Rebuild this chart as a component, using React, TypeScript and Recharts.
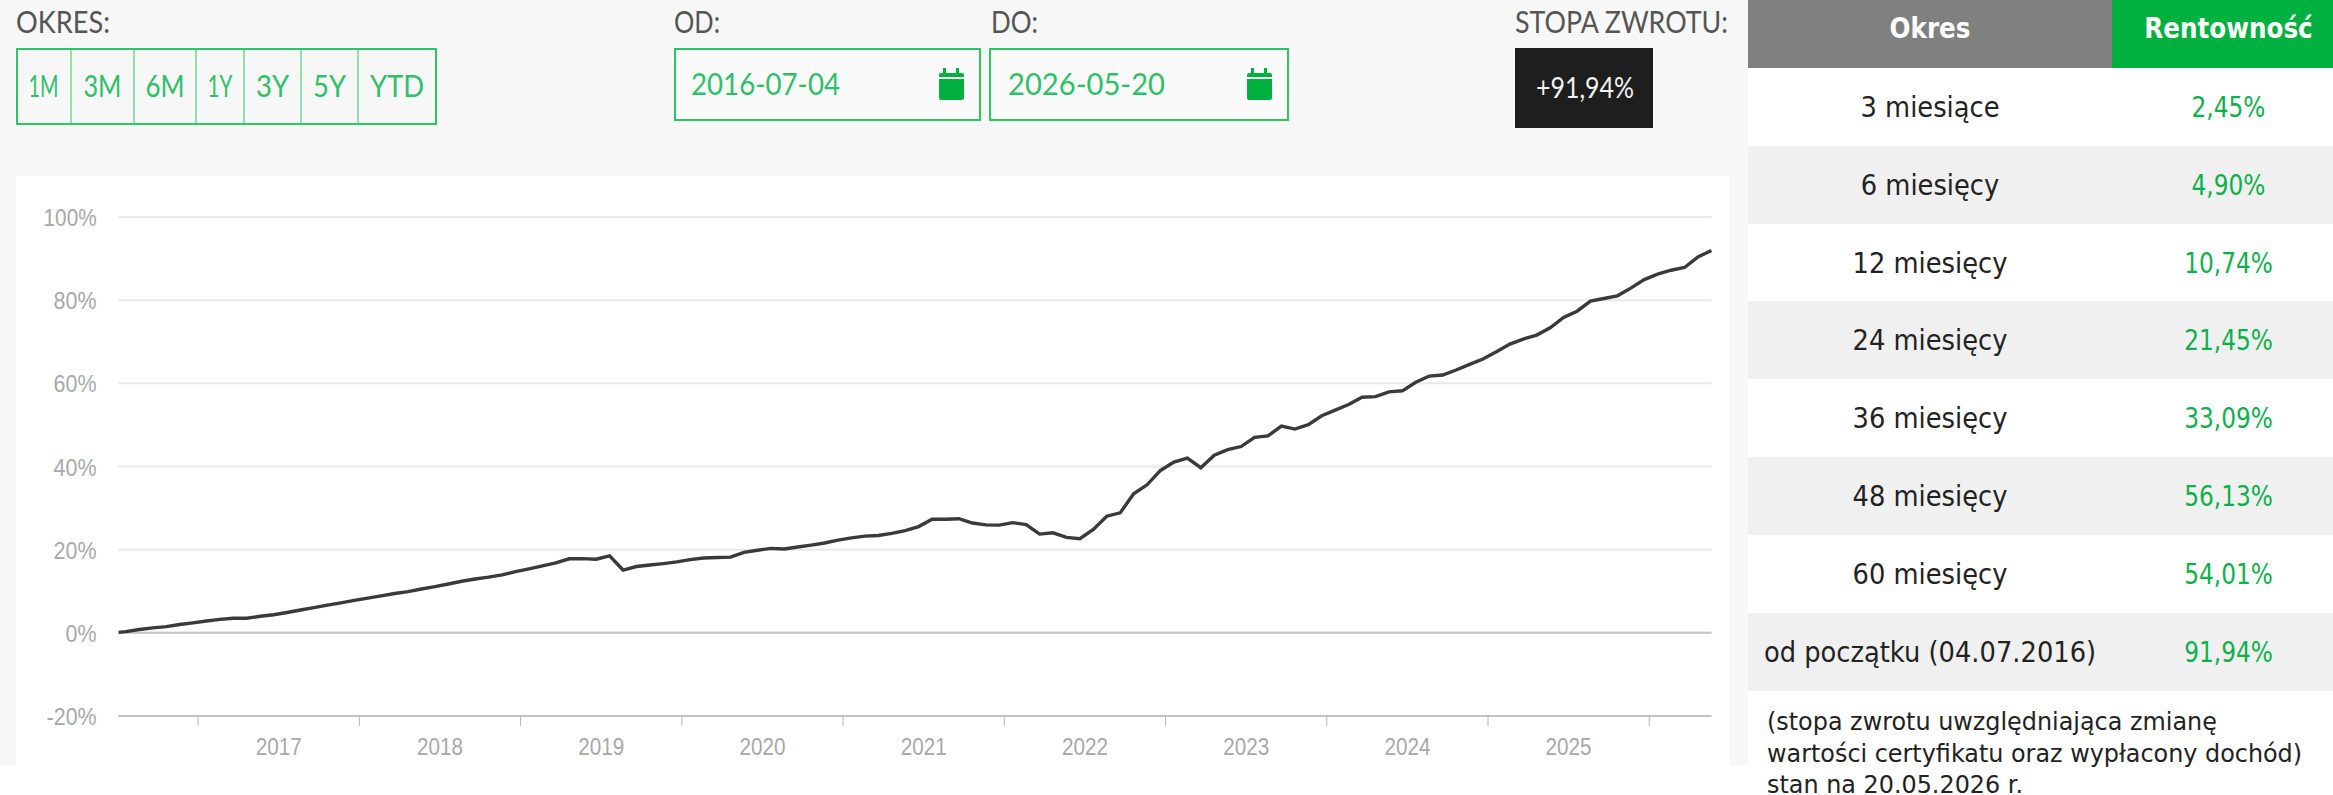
import { CartesianGrid, Line, LineChart, ReferenceLine, XAxis, YAxis } from "recharts";

const GREEN = "#2ac765";
const TEXT_GREEN = "#2fbf68";
const DARK_GREEN = "#00b140";
const TICK_FONT = "'Liberation Sans', Arial";

// values: first entry is 2016-07-04, the rest the 20th of each month
const returnValues = [
  0.1, 0.3, 0.8, 1.2, 1.5, 2.0, 2.4, 2.85, 3.25, 3.5, 3.5, 4.0, 4.35, 4.9, 5.5, 6.05, 6.65, 7.2, 7.8, 8.35,
  8.9, 9.45, 9.9, 10.55, 11.1, 11.75, 12.4, 12.95, 13.4, 13.95, 14.7, 15.4, 16.1, 16.8, 17.8, 17.85, 17.7, 18.5,
  15.1, 15.95, 16.3, 16.65, 17.05, 17.6, 18.0, 18.1, 18.2, 19.35, 19.85, 20.3, 20.15, 20.65, 21.1, 21.6, 22.3,
  22.85, 23.25, 23.4, 23.9, 24.6, 25.55, 27.3, 27.3, 27.45, 26.4, 25.95, 25.9, 26.5, 26.05, 23.75, 24.05, 22.95,
  22.65, 24.85, 28.05, 28.85, 33.45, 35.6, 39.05, 41.05, 42.0, 39.7, 42.7, 44.05, 44.8, 47.0, 47.35, 49.7, 49.0,
  50.05, 52.2, 53.55, 54.9, 56.65, 56.8, 57.95, 58.2, 60.25, 61.75, 62.0, 63.2, 64.55, 65.85, 67.6, 69.45, 70.65,
  71.6, 73.35, 75.85, 77.35, 79.75, 80.4, 81.05, 82.9, 84.95, 86.25, 87.2, 87.85, 90.4, 91.94,
];
const yTicks = [-20, 0, 20, 40, 60, 80, 100];
const yearTicks = [2017, 2018, 2019, 2020, 2021, 2022, 2023, 2024, 2025, 2026];

const periodLabels = ["3 miesiące", "6 miesięcy", "12 miesięcy", "24 miesięcy", "36 miesięcy", "48 miesięcy", "60 miesięcy", "od początku (04.07.2016)"];
const periodValues = ["2,45%", "4,90%", "10,74%", "21,45%", "33,09%", "56,13%", "54,01%", "91,94%"];
const noteLines = [
  "(stopa zwrotu uwzględniająca zmianę",
  "wartości certyfikatu oraz wypłacony dochód)",
  "stan na 20.05.2026 r.",
];
const rangeButtons = ["1M", "3M", "6M", "1Y", "3Y", "5Y", "YTD"];
const buttonEdges = [16, 71, 134, 196, 244, 301, 358, 436];
const buttonTextWidths = [30, 38, 39, 25, 33, 33, 54];

const chartData = returnValues.map((value, i) => {
  // month index counted from July 2016, point 0 is the start date
  const date = i === 0 ? 2016.507 : 2016 + (6 + (i - 1) + 19 / 30.4) / 12;
  return { date, value };
});

const YEAR_PX = 80.6;

function YearTick({ x, y, payload }: any) {
  if (payload.value === 2026) return null;
  return (
    <text x={x + YEAR_PX - 23} y={y + 27} textLength={46} lengthAdjust="spacingAndGlyphs" fill="#a8a8a8" fontSize={24} fontFamily={TICK_FONT}>
      {payload.value}
    </text>
  );
}

function PercentTick({ x, y, payload }: any) {
  const label = `${payload.value}%`;
  const width = payload.value === 100 ? 53 : payload.value === 0 ? 31 : payload.value === -20 ? 50 : 43;
  return (
    <text x={x - width} y={y + 9} textLength={width} lengthAdjust="spacingAndGlyphs" fill="#a8a8a8" fontSize={24} fontFamily={TICK_FONT}>
      {label}
    </text>
  );
}

function CalendarIcon({ x }: { x: number }) {
  return (
    <g fill={DARK_GREEN}>
      <rect x={x} y={73} width={25} height={27} rx={2} />
      <rect x={x + 4} y={68} width={3} height={7} />
      <rect x={x + 17} y={68} width={3} height={7} />
      <rect x={x} y={77} width={25} height={2} fill="#f7f7f7" />
    </g>
  );
}

function ControlText({ x, y, width, fill, children, size = 31 }: any) {
  return (
    <text x={x} y={y} textLength={width} lengthAdjust="spacingAndGlyphs" fill={fill} fontSize={size} fontFamily="Lato" fontWeight={400}>
      {children}
    </text>
  );
}

function Controls() {
  return (
    <svg width={2333} height={176} style={{ position: "absolute", left: 0, top: 0 }}>
      <ControlText x={16} y={33} width={94} fill="#555">OKRES:</ControlText>
      <ControlText x={674} y={33} width={46} fill="#555">OD:</ControlText>
      <ControlText x={991} y={33} width={47} fill="#555">DO:</ControlText>
      <ControlText x={1515} y={33} width={213} fill="#555">STOPA ZWROTU:</ControlText>

      <rect x={17} y={49} width={419} height={75} fill="none" stroke={GREEN} strokeWidth={2} />
      {buttonEdges.slice(1, -1).map((edge) => (
        <line key={edge} x1={edge} x2={edge} y1={49} y2={124} stroke={GREEN} strokeWidth={1} />
      ))}
      {rangeButtons.map((label, i) => (
        <ControlText key={label} x={(buttonEdges[i] + buttonEdges[i + 1] - buttonTextWidths[i]) / 2} y={97} width={buttonTextWidths[i]} fill={TEXT_GREEN}>
          {label}
        </ControlText>
      ))}

      <rect x={675} y={49} width={305} height={71} fill="#fafafa" stroke={GREEN} strokeWidth={2} />
      <ControlText x={691} y={95} width={149} fill={TEXT_GREEN}>2016-07-04</ControlText>
      <CalendarIcon x={939} />

      <rect x={990} y={49} width={298} height={71} fill="#fafafa" stroke={GREEN} strokeWidth={2} />
      <ControlText x={1008} y={95} width={157} fill={TEXT_GREEN}>2026-05-20</ControlText>
      <CalendarIcon x={1247} />

      <rect x={1515} y={48} width={138} height={80} fill="#1e1e1e" />
      <ControlText x={1536} y={98} width={98} fill="#f2f2f2" size={29}>+91,94%</ControlText>
    </svg>
  );
}

function TableText({ x, y, width, color, bold, squeeze = 0.92, children }: any) {
  return (
    <div
      style={{
        position: "absolute",
        left: x - width / 2,
        top: y - 25,
        width,
        height: 50,
        lineHeight: "50px",
        textAlign: "center",
        whiteSpace: "nowrap",
        color,
        fontFamily: "'DejaVu Sans'",
        fontWeight: bold ? 700 : 400,
        fontSize: 28,
        transform: `scaleX(${squeeze})`,
      }}
    >
      {children}
    </div>
  );
}

function ReturnsTable() {
  const rowTops = [68, 146, 224, 301, 379, 457, 535, 613, 691];
  return (
    <>
      <div style={{ position: "absolute", left: 1748, top: 0, width: 364, height: 68, background: "#808080" }} />
      <div style={{ position: "absolute", left: 2112, top: 0, width: 221, height: 68, background: DARK_GREEN }} />
      <TableText x={1930} y={29} width={380} color="#fff" bold squeeze={0.88}>Okres</TableText>
      <TableText x={2228.5} y={29} width={209} color="#fff" bold squeeze={0.88}>Rentowność</TableText>
      {periodLabels.map((label, i) => (
        <div key={label}>
          {i % 2 === 1 && (
            <div style={{ position: "absolute", left: 1748, top: rowTops[i], width: 585, height: rowTops[i + 1] - rowTops[i], background: "#f0f0f0" }} />
          )}
          <TableText x={1930} y={(rowTops[i] + rowTops[i + 1]) / 2 + 1} width={380} color="#222">{label}</TableText>
          <TableText x={2228.5} y={(rowTops[i] + rowTops[i + 1]) / 2 + 1} width={209} color="#0db14b" squeeze={0.83}>{periodValues[i]}</TableText>
        </div>
      ))}
      {noteLines.map((line, i) => (
        <div
          key={line}
          style={{
            position: "absolute",
            left: 1767,
            top: 713 + i * 31.5,
            height: 18,
            lineHeight: "18px",
            whiteSpace: "nowrap",
            color: "#222",
            fontFamily: "'DejaVu Sans'",
            fontSize: 25,
            transformOrigin: "left center",
            transform: "scaleX(0.955)",
          }}
        >
          {line}
        </div>
      ))}
    </>
  );
}

export default function App() {
  return (
    <div style={{ position: "absolute", left: 0, top: 0, width: 2333, height: 795, background: "#fff", overflow: "hidden" }}>
      <div style={{ position: "absolute", left: 0, top: 0, width: 1748, height: 765, background: "#f7f7f7" }} />
      <Controls />
      <div style={{ position: "absolute", left: 16, top: 176, width: 1713, height: 589, background: "#fff" }}>
        <LineChart width={1713} height={589} data={chartData} margin={{ top: 41, right: 17.5, bottom: 0, left: 0 }}>
          <CartesianGrid horizontal vertical={false} stroke="#e8e8e8" strokeWidth={2} />
          <XAxis
            dataKey="date"
            type="number"
            domain={[2016.507, 2026.386]}
            ticks={yearTicks}
            interval={0}
            height={49}
            tickSize={10}
            axisLine={{ stroke: "#c2c2c2", strokeWidth: 2 }}
            tickLine={{ stroke: "#b8b8b8", strokeWidth: 1 }}
            tick={<YearTick />}
          />
          <YAxis
            type="number"
            domain={[-20, 100]}
            ticks={yTicks}
            width={102.6}
            axisLine={false}
            tickLine={false}
            tickMargin={22}
            tickSize={0}
            tick={<PercentTick />}
          />
          <ReferenceLine y={0} stroke="#c6c6c6" strokeWidth={2} />
          <Line dataKey="value" type="linear" stroke="#3a3a3a" strokeWidth={3.4} dot={false} isAnimationActive={false} />
        </LineChart>
      </div>
      <ReturnsTable />
    </div>
  );
}
